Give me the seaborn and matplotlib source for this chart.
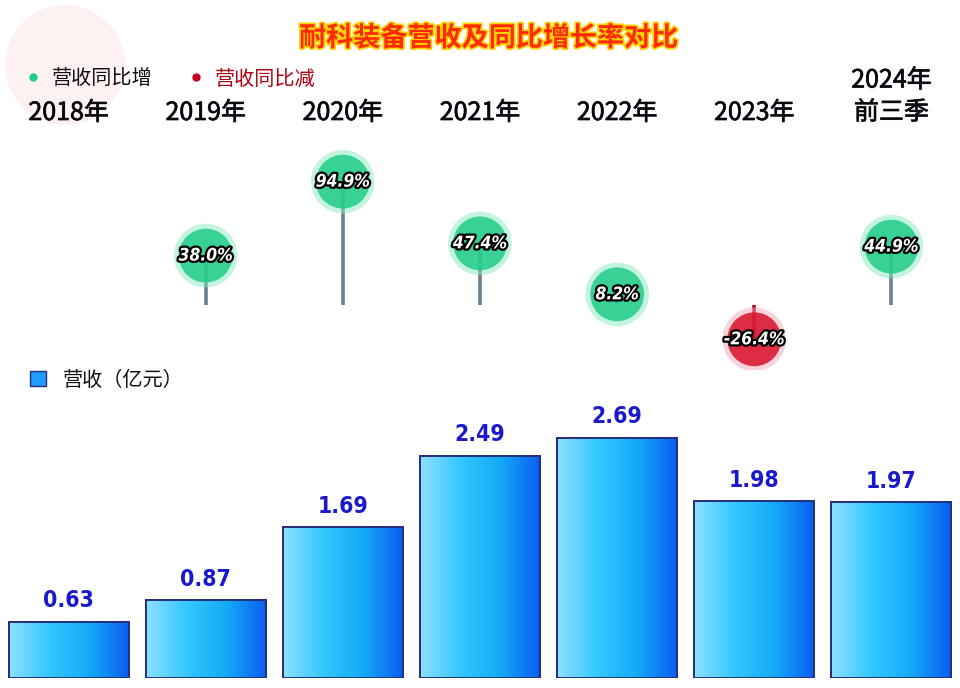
import numpy as np
import pandas as pd
import seaborn as sns
import matplotlib.pyplot as plt
import matplotlib.transforms as mtransforms
import matplotlib.patheffects as pe
from matplotlib.colors import LinearSegmentedColormap
from matplotlib.lines import Line2D
from matplotlib.patches import Patch, Circle

# Data
years = ['2018年', '2019年', '2020年', '2021年', '2022年', '2023年', '2024年\n前三季']
revenue = [0.63, 0.87, 1.69, 2.49, 2.69, 1.98, 1.97]
growth = [np.nan, 38.0, 94.9, 47.4, 8.2, -26.4, 44.9]

title = '耐科装备营收及同比增长率对比'
up_label = '营收同比增'
down_label = '营收同比减'
bar_label = '营收（亿元）'

sns.set_theme(style='white')
plt.rcParams['font.family'] = ['Noto Sans CJK SC', 'DejaVu Sans']

W, H = 960, 688
fig = plt.figure(figsize=(9.6, 6.88), dpi=100)
fig.patch.set_facecolor('white')

# faint watermark in the corner, behind everything
wm = Circle((0.65, 6.88 - 0.65), 0.6, transform=fig.dpi_scale_trans,
            facecolor='#fdf1f1', edgecolor='none', zorder=-5)
fig.patches.append(wm)

# Bar chart: revenue
ax_bar = fig.add_axes([0, 10 / H, 1, 300 / H])
ax_bar.patch.set_alpha(0)
df = pd.DataFrame({'year': years, 'revenue': revenue})
sns.barplot(data=df, x='year', y='revenue', ax=ax_bar, width=0.876,
            color='#1e9cff', edgecolor='#26307a', linewidth=1.2, zorder=2)

grad_cmap = LinearSegmentedColormap.from_list(
    'bars', ['#8ee0ff', '#34c8ff', '#14aaf8', '#0a5cf0'])
grad = np.linspace(0, 1, 256).reshape(1, -1)
for patch in list(ax_bar.patches):
    x0, y0 = patch.get_x(), patch.get_y()
    w, h = patch.get_width(), patch.get_height()
    im = ax_bar.imshow(grad, extent=[x0, x0 + w, y0, y0 + h], aspect='auto',
                       cmap=grad_cmap, zorder=2.5)
    im.set_clip_path(patch)
    ax_bar.add_patch(plt.Rectangle((x0, y0), w, h, facecolor='none',
                                   edgecolor='#26307a', linewidth=1.4, zorder=3))

ax_bar.bar_label(ax_bar.containers[0], labels=[f'{v:.2f}' for v in revenue],
                 padding=7, fontsize=16.5, fontweight='bold', color='#1a1acc',
                 family='DejaVu Sans', fontstretch='condensed')
ax_bar.set_xlim(-0.5, 6.5)
ax_bar.set_ylim(0, 300 / 89.2)
ax_bar.axis('off')

# Lollipop chart: YoY growth
ax_top = fig.add_axes([0, (H - 370) / H, 1, 220 / H])
ax_top.patch.set_alpha(0)
pos = np.arange(len(years))
gdf = pd.DataFrame({'x': pos, 'growth': growth}).dropna()
gdf['sign'] = np.where(gdf.growth >= 0, 'up', 'down')

up = gdf[gdf.sign == 'up']
down = gdf[gdf.sign == 'down']
ax_top.vlines(up.x, 0, up.growth, colors='#6a7f90', linewidth=2.6, zorder=1)
ax_top.vlines(down.x, 0, down.growth, colors='#b8001e', linewidth=2.6, zorder=1)

sns.scatterplot(data=gdf, x='x', y='growth', hue='sign', ax=ax_top, s=2100,
                palette={'up': '#8ae8c0', 'down': '#f4a8b8'}, alpha=0.5,
                edgecolor='none', legend=False, zorder=2)
sns.scatterplot(data=gdf, x='x', y='growth', hue='sign', ax=ax_top, s=1500,
                palette={'up': '#22cc88', 'down': '#d8102a'}, alpha=0.85,
                edgecolor='none', legend=False, zorder=3)

for x, v in zip(gdf.x, gdf.growth):
    ax_top.text(x, v, f'{v:.1f}%', ha='center', va='center', color='white',
                fontsize=12.5, fontweight='bold', style='italic',
                family='DejaVu Sans', fontstretch='condensed', zorder=4,
                path_effects=[pe.withStroke(linewidth=3.2, foreground='black')])

ax_top.set_xlim(-0.5, 6.5)
ax_top.set_ylim(-50, 119.2)
ax_top.axis('off')

# Year labels above the lollipops
trans = mtransforms.blended_transform_factory(ax_top.transData, fig.transFigure)
for x, lab in zip(pos, years):
    n = lab.count('\n')
    y = 1 - (113 - n * 33 / 2) / H
    ax_top.text(x, y, lab, transform=trans, ha='center', va='center',
                fontsize=18, color='#080810', linespacing=1.3,
                path_effects=[pe.SimpleLineShadow(offset=(-0.8, 0.6),
                                                  shadow_color='#3040ff', alpha=0.7),
                              pe.withStroke(linewidth=0.5, foreground='#080810')])

# Title
fig.text(489 / W, 1 - 38 / H, title, ha='center', va='center', fontsize=19.5,
         fontweight='bold', color='#ff2a00',
         path_effects=[pe.withStroke(linewidth=2.5, foreground='#ffd200')])

# Legends
leg1 = fig.legend(handles=[Line2D([], [], marker='o', linestyle='none',
                                  color='#1fcc85', markersize=5),
                           Line2D([], [], marker='o', linestyle='none',
                                  color='#c8001e', markersize=5)],
                  labels=[up_label, down_label], ncol=2, frameon=False,
                  loc='center left', bbox_to_anchor=(5 / W, 1 - 79 / H),
                  fontsize=14.5, handletextpad=0.4, columnspacing=1.7,
                  handlelength=1.0)
leg1.get_texts()[0].set_color('#101010')
leg1.get_texts()[1].set_color('#b00010')

leg2 = fig.legend(handles=[Patch(facecolor='#1e9cff', edgecolor='#26307a')],
                  labels=[bar_label], frameon=False, loc='center left',
                  bbox_to_anchor=(12 / W, 1 - 380 / H), fontsize=14.5,
                  handlelength=0.8, handleheight=0.8, handletextpad=0.8)
leg2.get_texts()[0].set_color('#101010')

fig.savefig('out.png', dpi=100)
